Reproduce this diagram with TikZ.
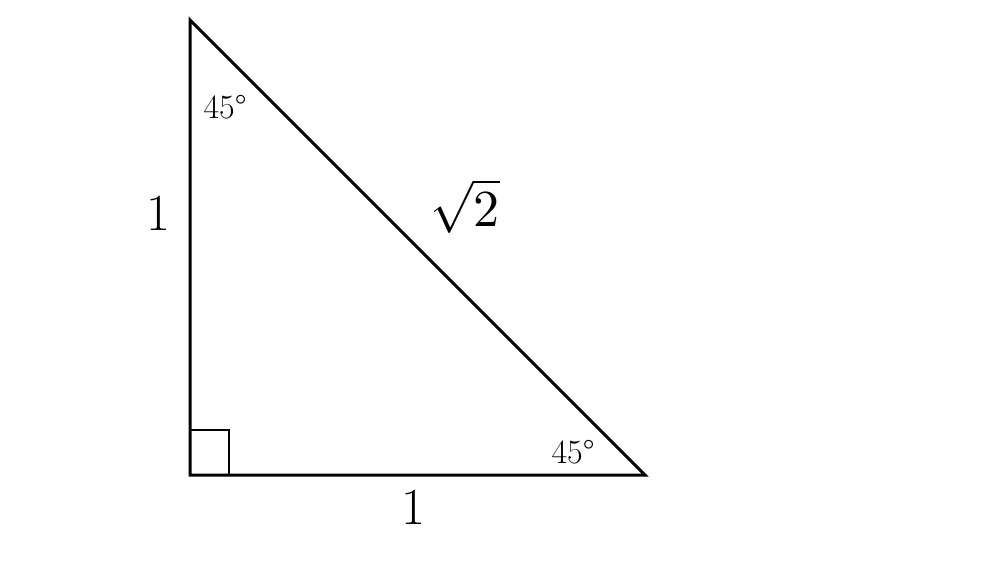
\documentclass[tikz,border=0pt]{standalone}
\usepackage{fontspec}
\usepackage{unicode-math}
\begin{document}
\begin{tikzpicture}[x=0.5pt,y=-0.5pt,
  side/.style={draw=black,line width=1.5pt,line join=miter},
  biglab/.style={inner sep=0pt,font=\fontsize{26}{30}\selectfont},
  anglab/.style={inner sep=0pt,font=\fontsize{17}{20}\selectfont}]
\useasboundingbox[fill=white] (0,0) rectangle (1000,562);
\coordinate (A) at (190,20);
\coordinate (B) at (190,475);
\coordinate (C) at (645,475);
\coordinate (S1) at (190,430);
\coordinate (S2) at (229,430);
\coordinate (S3) at (229,475);
\draw[line width=1pt] (S1) -- (S2) -- (S3);
\draw[side] (A) -- (B) -- (C) -- cycle;
\node[anglab] (a1) at (225,107) {45°};
\node[anglab] (a2) at (573,452) {45°};
\node[biglab] (l1) at (158,213) {1};
\node[biglab] (l2) at (413,507) {1};
\node[biglab] (l3) at (465,206) {$\sqrt{2}$};
\end{tikzpicture}
\end{document}
